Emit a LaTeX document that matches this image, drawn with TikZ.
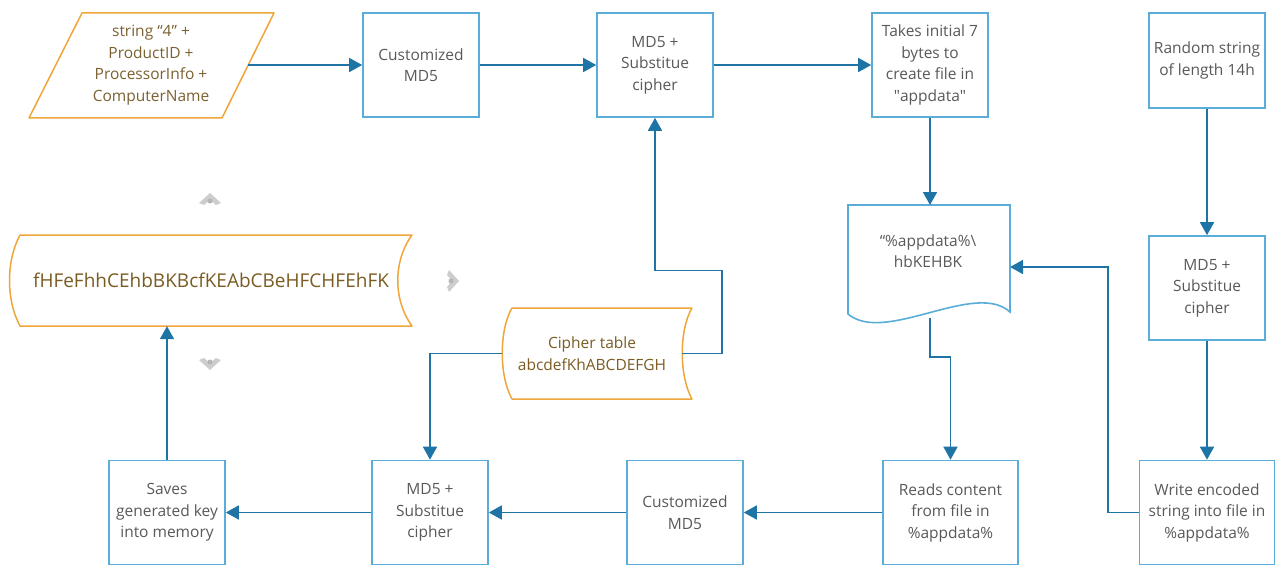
\documentclass[tikz,border=0pt]{standalone}
\usepackage{fontspec}
\setmainfont{Open Sans}
\usetikzlibrary{arrows.meta}

\definecolor{boxblue}{HTML}{5BADD9}
\definecolor{flowblue}{HTML}{1F74A6}
\definecolor{datorange}{HTML}{F0A53A}
\definecolor{txtgray}{HTML}{595959}
\definecolor{txtbrown}{HTML}{7A5C22}
\definecolor{handlegray}{HTML}{CDCDCD}

\begin{document}
\begin{tikzpicture}[x=1pt,y=-1pt,
        datline/.style={draw=datorange, line width=1.5pt, line join=round},
        handle/.style={fill=handlegray}]
                \useasboundingbox (0,0) rectangle (1276,567);
                % data shapes (drawn as outlines)
                \draw[datline] (82,13) -- (274,13) -- (222,118) -- (29,118) -- cycle;
                \draw[datline] (20,235) -- (412,235) .. controls (393,261) and (393,300) .. (412,326)
                        -- (20,326) .. controls (6,300) and (6,261) .. (20,235) -- cycle;
                \draw[datline] (512,308) -- (692,308) .. controls (679,330) and (679,376) .. (692,399)
                        -- (512,399) .. controls (499,376) and (499,330) .. (512,308) -- cycle;
                \draw[draw=boxblue, line width=1.6pt] (848,205) -- (1010,205) -- (1010,312)
                        .. controls (975,280) and (885,345) .. (848,314) -- cycle;
                \begin{scope}[every node/.style={align=center, inner sep=0pt, font=\fontsize{15.5}{21.5}\selectfont}]
                        \node[text=txtbrown!85!gray] (inp) at (151,65) {string “4” +\\ProductID +\\ProcessorInfo +\\ComputerName};
                        \node[text=txtbrown, minimum width=180pt, minimum height=91pt] (cipher) at (592,353.5) {Cipher table\\abcdefKhABCDEFGH};
                        \node[text=txtbrown, minimum height=91pt, font=\fontsize{19}{23}\selectfont] (key) at (211,280.5) {fHFeFhhCEhbBKBcfKEAbCBeHFCHFEhFK};
                        \node[text=txtgray] (doc) at (928,251) {“\%appdata\%\textbackslash\\hbKEHBK};
                \end{scope}
                \coordinate (inpR) at (248,65);
                \coordinate (docT) at (930,205);
                \coordinate (docR) at (1010,267);
                \coordinate (docB) at (930,318);
                % process boxes
                \begin{scope}[every node/.style={draw=boxblue, line width=1.6pt, fill=white, text=txtgray, align=center,
                                minimum width=116pt, minimum height=104pt, inner sep=2pt, font=\fontsize{15.5}{21.5}\selectfont}]
                        \node (cmdA) at (421,65) {Customized\\MD5};
                        \node (md5A) at (655,65) {MD5 +\\Substitue\\cipher};
                        \node (takes) at (930,65) {Takes initial 7\\bytes to\\create file in\\\textquotedbl appdata\textquotedbl};
                        \node[minimum height=95pt] (rnd) at (1207,60.5) {Random string\\of length 14h};
                        \node (md5C) at (1207,288) {MD5 +\\Substitue\\cipher};
                        \node[minimum width=135pt] (write) at (1207,512.5) {Write encoded\\string into file in\\\%appdata\%};
                        \node[minimum width=135pt] (reads) at (950.5,512.5) {Reads content\\from file in\\\%appdata\%};
                        \node (cmdB) at (685,512.5) {Customized\\MD5};
                        \node (md5B) at (430,512.5) {MD5 +\\Substitue\\cipher};
                        \node (saves) at (167,512.5) {Saves\\generated key\\into memory};
                \end{scope}
                % connection handles
                \fill[handle] (199,203) -- (210,193) -- (221,203) -- (216,205) -- (210,200) -- (204,205) -- cycle;
                \fill[handlegray!70!gray] (210,201) circle (2.5);
                \fill[handle] (199,360) -- (210,370) -- (221,360) -- (216,358) -- (210,363) -- (204,358) -- cycle;
                \fill[handlegray!70!gray] (210,362) circle (2.5);
                \fill[handle] (449,270) -- (459,281) -- (449,292) -- (447,287) -- (452,281) -- (447,275) -- cycle;
                \fill[handlegray!70!gray] (451,281) circle (2.5);
                % connectors
                \begin{scope}[every path/.style={draw=flowblue, line width=1.6pt, -{Triangle[length=13pt,width=14pt]}}]
                        \draw (inpR) -- (cmdA.west);
                        \draw (cmdA) -- (md5A);
                        \draw (md5A) -- (takes);
                        \draw (takes.south) -- (docT);
                        \draw (rnd) -- (md5C);
                        \draw (md5C) -- (write);
                        \draw (write.west) -- ++(-31,0) |- (docR);
                        \draw (docB) -- ++(0,39) -| (reads.north);
                        \draw (reads) -- (cmdB);
                        \draw (cmdB) -- (md5B);
                        \draw (md5B) -- (saves);
                        \draw (saves.north) -- (saves.north |- key.south);
                        \draw (cipher.west) -| (md5B.north);
                        \draw (cipher.east) -- ++(40,0) -- ++(0,-83) -| (md5A.south);
                \end{scope}
        \end{tikzpicture}
\end{document}
